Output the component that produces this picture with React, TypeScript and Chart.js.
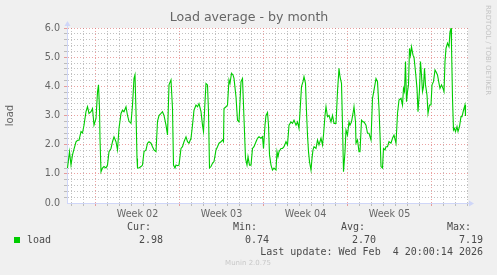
import React, { useEffect, useRef } from 'react';
import { Chart, registerables } from 'chart.js';
Chart.register(...registerables);

// hours relative to Monday 2026-01-05 00:00 (start of Week 02)
const hours = [
  -56, -52, -49, -46, -43, -39, -36, -33, -29, -26, -23, -19, -16, -13, -9, -6, -3, 1, 4, 6, 8, 9, 11, 14, 17, 21, 24, 27, 31, 34, 37, 41, 44, 47, 51, 54, 57, 61, 64, 67, 71, 74, 77, 79, 81, 83, 84, 87, 91, 94, 97, 101, 104, 107, 111, 114, 117, 121, 124, 127, 131, 134, 137, 141, 144,
  147, 151, 152, 154, 156, 159, 161, 164, 167, 171, 174, 177, 181, 184, 187, 191, 194, 197, 201, 204, 207, 211, 214, 216, 219, 221, 224, 226, 228, 231, 234, 237, 241, 244, 247, 251, 254, 256, 257, 261, 264, 267, 269, 272, 275, 277, 281, 284, 287, 291, 294, 297, 300, 303, 305, 308, 311, 314, 317, 321, 324, 327, 331, 334, 336, 339, 341, 344,
  346, 348, 351, 354, 357, 361, 363, 365, 367, 371, 374, 377, 381, 384, 387, 391, 394, 397, 401, 404, 407, 409, 412, 415, 417, 420, 422, 424, 426, 428, 431, 433, 435, 437, 441, 444, 447, 451, 454, 456, 459, 461, 464, 467, 471, 474, 477, 481, 484, 487, 489, 492, 494, 496, 499, 501, 504, 507, 509, 512, 515, 517, 520, 521, 524, 527, 529, 532, 535, 537, 541, 544,
  547, 551, 554, 557, 561, 564, 567, 569, 571, 574, 576, 579, 581, 584, 587, 591, 594, 597, 601, 604, 607, 611, 614, 616, 618, 620, 622, 624, 626, 628, 630, 632, 635, 637, 640, 643, 645, 648, 650, 652, 654, 656, 658, 660, 663, 665, 668, 671, 673, 676, 679, 681, 684, 687, 689, 692, 695, 697, 699, 701, 704, 707, 709, 711, 712, 714, 716, 718, 720, 723, 725, 728, 731, 733, 736, 739, 740,
];
const load = [
  1.2, 1.76, 1.3, 1.65, 1.85, 2.1, 2.15, 2.15, 2.45, 2.4, 2.67, 3.13, 3.3, 3.07, 3.13, 3.24, 2.67, 2.9, 3.8, 4.05, 3.24, 2.2, 1.07, 1.2, 1.25, 1.2, 1.3, 1.76, 1.87, 2.1, 2.27, 2.1, 1.82, 2.56, 3.07, 3.18, 3.13, 3.3, 3.0, 2.8, 2.73, 3.36, 4.27, 4.39, 3.13, 1.53, 1.2, 1.2, 1.25, 1.3, 1.76, 1.82, 2.05, 2.1, 2.05, 1.93, 1.82, 1.76, 2.8, 3.0, 3.07, 3.13, 3.0, 2.67, 2.33,
  4.05, 4.22, 4.22, 3.24, 1.3, 1.2, 1.3, 1.28, 1.3, 1.87, 1.93, 2.1, 2.27, 2.1, 2.05, 2.22, 2.67, 3.18, 3.36, 3.3, 3.41, 3.13, 2.67, 2.45, 3.47, 4.1, 4.05, 3.13, 1.2, 1.25, 1.36, 1.42, 1.82, 1.93, 2.05, 2.1, 2.16, 2.1, 3.24, 3.3, 3.36, 4.22, 4.1, 4.45, 4.39, 4.27, 3.64, 2.84, 2.78, 4.16, 4.27, 2.9, 1.53, 1.3, 1.59, 1.3, 1.3, 1.87, 1.93, 2.1, 2.22, 2.27, 2.22, 2.27, 1.87, 2.67, 3.0, 3.1,
  2.67, 1.65, 1.3, 1.13, 1.2, 1.13, 1.76, 1.59, 1.76, 1.87, 1.87, 1.93, 2.1, 1.99, 2.67, 2.78, 2.73, 2.84, 2.67, 2.78, 2.56, 3.13, 3.99, 4.16, 4.33, 4.1, 3.13, 2.33, 1.76, 1.42, 1.13, 1.53, 1.82, 1.93, 1.87, 2.16, 1.99, 2.22, 1.99, 2.33, 3.0, 3.3, 2.96, 3.0, 2.78, 3.0, 2.73, 2.73, 3.82, 4.62, 4.33, 4.1, 2.67, 1.07, 1.76, 2.5, 2.33, 2.78, 2.67, 2.78, 3.07, 3.3, 2.78, 2.05, 2.16, 1.76, 1.76, 2.84, 2.78, 2.78, 2.67, 2.39,
  2.39, 2.16, 3.59, 3.87, 4.27, 4.16, 3.24, 2.33, 1.25, 1.2, 1.87, 1.82, 1.93, 1.93, 2.1, 2.05, 2.22, 2.33, 2.05, 3.07, 3.53, 3.59, 3.36, 3.93, 3.82, 4.85, 3.47, 3.82, 4.05, 5.3, 5.07, 5.36, 5.07, 5.0, 4.5, 3.93, 3.13, 3.87, 4.85, 4.39, 3.82, 3.99, 4.62, 4.05, 3.7, 3.07, 3.36, 3.36, 4.05, 4.16, 4.56, 4.5, 4.39, 4.1, 3.93, 4.05, 3.93, 3.82, 4.85, 5.3, 5.48, 5.36, 5.87, 5.99, 5.42, 3.59, 2.5, 2.56, 2.45, 2.62, 2.45, 2.62, 2.96, 2.96, 3.18, 3.36, 2.98,
];

const weekLabels = ['Week 02', 'Week 03', 'Week 04', 'Week 05'];
const legendHeaders = ['Cur:', 'Min:', 'Avg:', 'Max:'];
const legendValues = ['2.98', '0.74', '2.70', '7.19'];
const seriesName = 'load';
const titleText = 'Load average - by month';
const lastUpdate = 'Last update: Wed Feb  4 20:00:14 2026';
const sideText = 'RRDTOOL / TOBI OETIKER';
const footerText = 'Munin 2.0.75';
const yAxisTitle = 'load';

const GREEN = '#00cc00';
const AXIS = '#cfd6f8';
const FONT = '#666666';
const MAJOR = 'rgba(222,100,100,0.6)';
const MINOR = 'rgba(160,160,160,0.65)';

const decorPlugin = {
  id: 'decor',
  beforeDraw(chart: any) {
    const { ctx, chartArea: a } = chart;
    ctx.save();
    ctx.fillStyle = '#f0f0f0';
    ctx.fillRect(0, 0, chart.width, chart.height);
    ctx.fillStyle = '#ffffff';
    ctx.fillRect(a.left, a.top, a.right - a.left, a.bottom - a.top);
    ctx.restore();
  },
  afterDraw(chart: any) {
    const { ctx, chartArea: a } = chart;
    ctx.save();
    // axis extensions and arrows
    ctx.strokeStyle = AXIS;
    ctx.lineWidth = 1;
    ctx.beginPath();
    ctx.moveTo(a.left + 0.5, a.top);
    ctx.lineTo(a.left + 0.5, a.top - 4);
    ctx.moveTo(a.right, a.bottom + 0.5);
    ctx.lineTo(a.right + 2, a.bottom + 0.5);
    ctx.stroke();
    ctx.fillStyle = AXIS;
    ctx.beginPath();
    ctx.moveTo(a.left + 0.5, a.top - 7);
    ctx.lineTo(a.left - 2.5, a.top - 2);
    ctx.lineTo(a.left + 3.5, a.top - 2);
    ctx.closePath();
    ctx.fill();
    ctx.beginPath();
    ctx.moveTo(a.right + 6, a.bottom + 0.5);
    ctx.lineTo(a.right + 1, a.bottom - 2.5);
    ctx.lineTo(a.right + 1, a.bottom + 3.5);
    ctx.closePath();
    ctx.fill();

    // title
    ctx.fillStyle = FONT;
    ctx.font = '12.6px "DejaVu Sans"';
    ctx.textAlign = 'center';
    ctx.textBaseline = 'middle';
    ctx.fillText(titleText, 249, 18);

    // side text
    ctx.save();
    ctx.translate(488, 5);
    ctx.rotate(Math.PI / 2);
    ctx.fillStyle = '#c4c4c4';
    ctx.font = '7px "DejaVu Sans"';
    ctx.textAlign = 'left';
    ctx.textBaseline = 'middle';
    ctx.fillText(sideText, 0, 0);
    ctx.restore();

    // legend
    ctx.fillStyle = GREEN;
    ctx.fillRect(14, 237, 6, 6);
    ctx.fillStyle = '#4a4a4a';
    ctx.font = '10px "DejaVu Sans Mono"';
    ctx.textBaseline = 'middle';
    ctx.textAlign = 'left';
    ctx.fillText(seriesName, 27, 240);
    const headerX = [127, 233, 341, 447];
    const valueRight = [163, 269, 376, 483];
    legendHeaders.forEach((h, i) => {
      ctx.textAlign = 'left';
      ctx.fillText(h, headerX[i], 227);
      ctx.textAlign = 'right';
      ctx.fillText(legendValues[i], valueRight[i], 240);
    });
    ctx.textAlign = 'right';
    ctx.fillText(lastUpdate, 483, 252);

    // footer
    ctx.fillStyle = '#c8c8c8';
    ctx.font = '7px "DejaVu Sans"';
    ctx.textAlign = 'center';
    ctx.fillText(footerText, 248, 263);
    ctx.restore();
  },
};

export default function App() {
  const ref = useRef<HTMLCanvasElement | null>(null);
  useEffect(() => {
    if (!ref.current) return;
    const chart = new Chart(ref.current, {
      type: 'line',
      data: {
        datasets: [
          {
            label: seriesName,
            data: hours.map((h, i) => ({ x: h, y: load[i] })),
            borderColor: GREEN,
            borderWidth: 1.1,
            pointRadius: 0,
            tension: 0,
            fill: false,
          },
        ],
      },
      options: {
        animation: false,
        responsive: false,
        devicePixelRatio: 1,
        layout: { padding: { left: 0, top: 28, right: 29, bottom: 0 } },
        plugins: { legend: { display: false }, tooltip: { enabled: false }, title: { display: false } },
        scales: {
          x: {
            type: 'linear',
            min: -57,
            max: 745,
            afterBuildTicks: (scale: any) => {
              const t = [];
              for (let v = -48; v <= 744; v += 12) t.push({ value: v });
              scale.ticks = t;
            },
            afterFit: (scale: any) => {
              scale.height = 72;
            },
            ticks: {
              autoSkip: false,
              maxRotation: 0,
              minRotation: 0,
              padding: 3,
              color: FONT,
              font: { family: 'DejaVu Sans', size: 9.6 },
              callback: (v: any) => {
                const n = Number(v);
                if (n >= 84 && (n - 84) % 168 === 0) return weekLabels[(n - 84) / 168] ?? '';
                return '';
              },
            },
            grid: {
              color: (c: any) => {
                const v = c.tick ? c.tick.value : 0;
                if (v % 168 === 0) return MAJOR;
                if (v % 24 === 0) return MINOR;
                return 'rgba(0,0,0,0)';
              },
              tickLength: 3,
              tickBorderDash: [],
              lineWidth: 1,
            },
            border: { color: AXIS, width: 1, dash: [1, 2] },
          },
          y: {
            type: 'linear',
            min: 0,
            max: 6,
            afterBuildTicks: (scale: any) => {
              const t = [];
              for (let i = 0; i <= 30; i++) t.push({ value: i / 5 });
              scale.ticks = t;
            },
            afterFit: (scale: any) => {
              scale.width = 67;
            },
            ticks: {
              autoSkip: false,
              padding: 4,
              color: FONT,
              font: { family: 'DejaVu Sans', size: 9.6 },
              callback: (v: any) => {
                const i = Math.round(Number(v) * 5);
                return i % 5 === 0 ? (i / 5).toFixed(1) : '';
              },
            },
            grid: {
              color: (c: any) => {
                const i = Math.round((c.tick ? c.tick.value : 0) * 5);
                if (i === 0) return 'rgba(0,0,0,0)';
                return i % 5 === 0 ? MAJOR : MINOR;
              },
              tickLength: 3,
              tickBorderDash: [],
              lineWidth: 1,
            },
            border: { color: AXIS, width: 1, dash: [1, 2] },
            title: {
              display: true,
              text: yAxisTitle,
              color: FONT,
              font: { family: 'DejaVu Sans', size: 10 },
              padding: { top: 4, bottom: 0 },
            },
          },
        },
      },
      plugins: [decorPlugin],
    });
    return () => chart.destroy();
  }, []);
  return (
    <div style={{ position: 'fixed', left: 0, top: 0, width: 497, height: 275, background: '#f0f0f0' }}>
      <canvas ref={ref} width={497} height={275} style={{ width: 497, height: 275, display: 'block' }} />
    </div>
  );
}
